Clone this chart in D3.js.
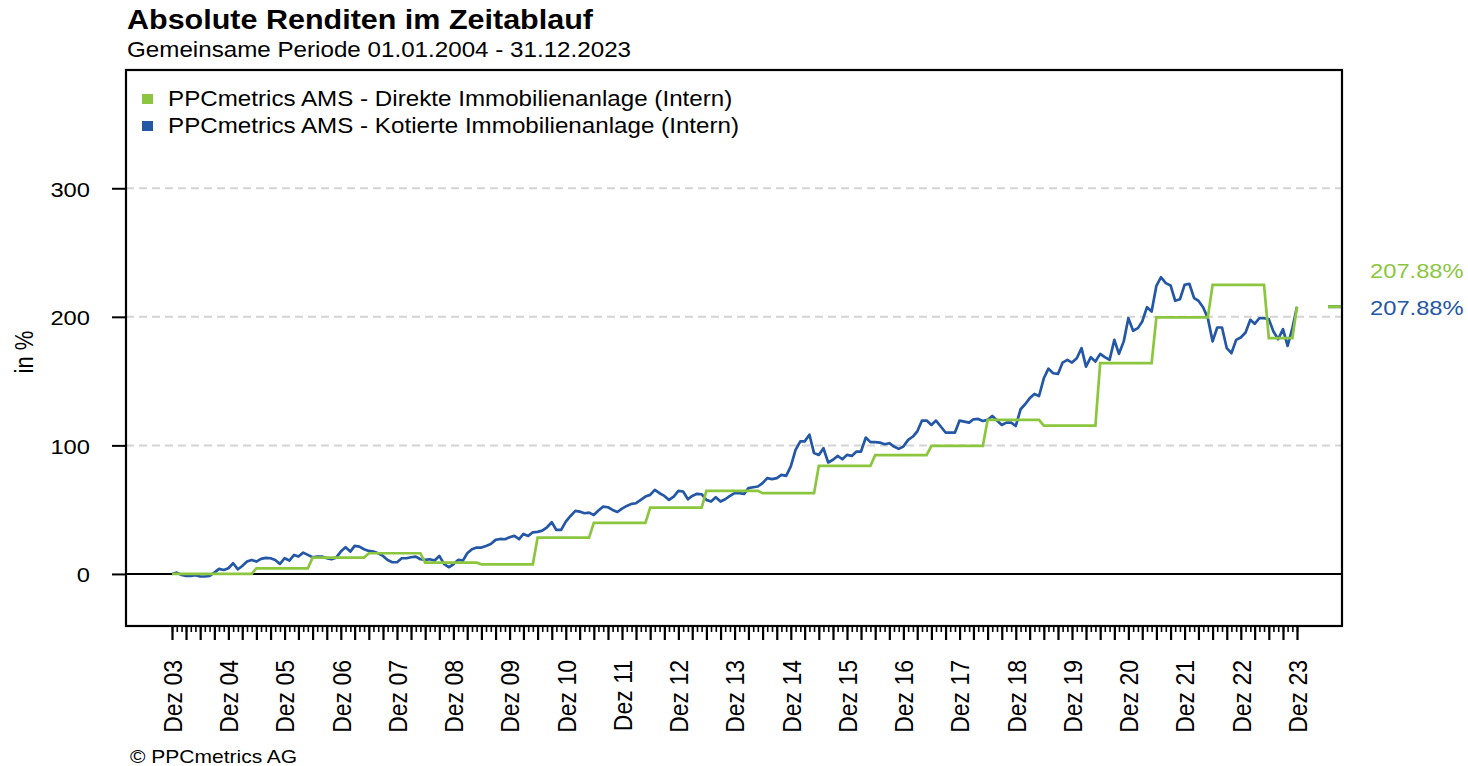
<!DOCTYPE html>
<html>
<head>
<meta charset="utf-8">
<script src="https://cdn.jsdelivr.net/npm/d3@7/dist/d3.min.js"></script>
<style>
  body { margin: 0; background: #fff; }
  svg { display: block; font-family: "Liberation Sans", Arial, sans-serif; }
</style>
</head>
<body>
<svg id="chart" width="1468" height="766"></svg>
<script>
// Chart texts
const title = 'Absolute Renditen im Zeitablauf';
const subtitle = 'Gemeinsame Periode 01.01.2004 - 31.12.2023';
const yLabel = 'in %';
const copyright = '\u00A9 PPCmetrics AG';
const seriesNames = [
  'PPCmetrics AMS - Direkte Immobilienanlage (Intern)',
  'PPCmetrics AMS - Kotierte Immobilienanlage (Intern)'
];
const seriesColors = ['#8cc63f', '#2457a5'];
const yTicks = [0, 100, 200, 300];

// Kotierte Immobilienanlage: monthly cumulative return in %, Dez 03 .. Dez 23
const blueStart = '2003-12';
const blueValues = [
  0, 1.0, -0.8, -1.5, -1.5, -1.0, -2.0, -2.0, -1.6, 1.0, 3.9, 3.1,
  4.4, 8.3, 3.6, 6.2, 9.6, 10.9, 9.6, 11.7, 12.5, 12.2, 10.9, 7.8,
  12.2, 10.4, 14.8, 13.5, 16.6, 14.8, 13.0, 13.5, 13.5, 12.2, 11.4, 12.7,
  17.4, 20.8, 17.4, 21.8, 21.3, 19.2, 17.9, 17.4, 16.1, 14.0, 10.9, 9.1,
  9.1, 12.2, 12.2, 13.0, 13.5, 11.4, 10.9, 11.4, 10.4, 14.0, 7.8, 5.2,
  7.5, 10.9, 10.4, 16.1, 19.2, 20.5, 20.5, 21.8, 23.3, 26.5, 27.2, 27.0,
  28.5, 29.6, 27.0, 31.1, 29.6, 32.4, 32.7, 33.7, 36.3, 40.2, 34.2, 34.2,
  40.7, 45.1, 49.0, 48.5, 47.2, 47.7, 45.9, 49.3, 52.4, 51.9, 49.8, 48.2,
  50.8, 52.9, 54.5, 55.0, 57.6, 60.2, 61.5, 65.4, 62.8, 60.7, 57.6, 60.2,
  64.6, 64.1, 58.1, 60.7, 62.3, 62.0, 57.6, 56.3, 59.7, 56.3, 58.1, 60.7,
  62.8, 62.8, 62.3, 66.7, 67.4, 68.0, 70.6, 74.5, 73.7, 74.5, 77.1, 76.3,
  83.6, 96.5, 103.1, 103.1, 108.3, 94.0, 92.6, 97.8, 86.7, 88.8, 91.8, 89.2,
  92.6, 91.8, 95.2, 95.2, 106.1, 102.5, 102.5, 102.2, 100.9, 101.7, 99.1, 97.3,
  99.1, 104.3, 106.9, 110.8, 119.3, 119.3, 115.9, 119.3, 114.7, 110.0, 110.0, 110.0,
  119.3, 118.5, 117.7, 120.3, 120.6, 119.0, 119.8, 122.9, 119.3, 115.9, 117.7, 117.7,
  115.1, 128.1, 132.2, 136.6, 140.0, 138.4, 152.2, 159.7, 156.1, 155.6, 164.4, 166.5,
  164.4, 167.8, 175.6, 161.3, 168.6, 165.2, 171.2, 168.6, 166.5, 182.1, 171.2, 180.9,
  198.9, 189.2, 191.2, 196.4, 207.5, 204.1, 224.1, 230.8, 226.2, 224.4, 212.5, 213.7,
  224.9, 225.7, 214.5, 212.5, 207.3, 199.0, 180.9, 191.7, 191.7, 175.6, 171.7, 182.1,
  183.9, 187.8, 197.7, 194.6, 198.9, 198.9, 198.2, 188.6, 182.6, 190.4, 177.4, 191.2,
  207.88
];

// Direkte Immobilienanlage: valuation changes once a year (corner points of the steps)
const greenDates = [
  '2003-12', '2005-05', '2005-06', '2006-05', '2006-06', '2007-05', '2007-06',
  '2008-05', '2008-06', '2009-05', '2009-06', '2010-05', '2010-06', '2011-05',
  '2011-06', '2012-05', '2012-06', '2013-05', '2013-06', '2014-05', '2014-06',
  '2015-05', '2015-06', '2016-05', '2016-06', '2017-05', '2017-06', '2018-05',
  '2018-06', '2019-05', '2019-06', '2020-05', '2020-06', '2021-05', '2021-06',
  '2022-05', '2022-06', '2023-05', '2023-06', '2023-11', '2023-12'
];
const greenValues = [
  0, 0, 4.4, 4.4, 12.7, 12.7, 16.1,
  16.1, 8.8, 8.8, 7.5, 7.5, 28.3, 28.3,
  39.7, 39.7, 51.6, 51.6, 64.6, 64.6, 62.8,
  62.8, 84.0, 84.0, 92.4, 92.4, 99.6, 99.6,
  119.8, 119.8, 115.4, 115.4, 164.0, 164.0, 199.5,
  199.5, 224.9, 224.9, 183.4, 183.4, 207.88
];

const STRETCH = 1.13; // the reference text is slightly wider than Arial
const parseMonth = d3.timeParse('%Y-%m');

const plot = { left: 126, right: 1342, top: 70, bottom: 626 };

const startDate = parseMonth(blueStart);
const blue = blueValues.map((v, i) => ({ date: d3.timeMonth.offset(startDate, i), value: v }));
const green = greenDates.map((d, i) => ({ date: parseMonth(d), value: greenValues[i] }));
const endDate = blue[blue.length - 1].date;

const svg = d3.select('#chart');

const x = d3.scaleTime()
  .domain([startDate, endDate])
  .range([172, 1297]);

const y = d3.scaleLinear()
  .domain([-40.5, 392])
  .range([plot.bottom, plot.top]);

// text helper with the horizontal stretch
const addText = (g, px, py, str, size, opts = {}) => g.append('text')
  .attr('transform', `translate(${px},${py}) scale(${STRETCH},1)${opts.rotate ? ' rotate(-90)' : ''}`)
  .attr('font-size', size)
  .attr('font-weight', opts.bold ? 'bold' : null)
  .attr('text-anchor', opts.anchor || 'start')
  .attr('fill', opts.color || '#000')
  .text(str);

// titles
addText(svg, 127, 29, title, 27, { bold: true });
addText(svg, 127, 57, subtitle, 21.4);

// gridlines
svg.append('g')
  .selectAll('line')
  .data(yTicks.filter(d => d !== 0))
  .join('line')
  .attr('x1', plot.left)
  .attr('x2', plot.right)
  .attr('y1', d => y(d))
  .attr('y2', d => y(d))
  .attr('stroke', '#d4d4d4')
  .attr('stroke-width', 2)
  .attr('stroke-dasharray', '8,5');

// zero line
svg.append('line')
  .attr('x1', plot.left)
  .attr('x2', plot.right)
  .attr('y1', y(0))
  .attr('y2', y(0))
  .attr('stroke', '#000')
  .attr('stroke-width', 2);

// series lines
const line = d3.line()
  .x(d => x(d.date))
  .y(d => y(d.value));

svg.append('path')
  .datum(blue)
  .attr('fill', 'none')
  .attr('stroke', seriesColors[1])
  .attr('stroke-width', 2.7)
  .attr('stroke-linejoin', 'round')
  .attr('d', line);

svg.append('path')
  .datum(green)
  .attr('fill', 'none')
  .attr('stroke', seriesColors[0])
  .attr('stroke-width', 2.7)
  .attr('d', line);

// last value markers at the right edge
const lastValues = [green[green.length - 1].value, blue[blue.length - 1].value];
[1, 0].forEach(i => {
  svg.append('line')
    .attr('x1', x(endDate) + 31)
    .attr('x2', plot.right)
    .attr('y1', y(lastValues[i]))
    .attr('y2', y(lastValues[i]))
    .attr('stroke', seriesColors[i])
    .attr('stroke-width', 3);
});

const fmtPct = v => d3.format('.2f')(v) + '%';
addText(svg, 1370, y(lastValues[0]) - 29, fmtPct(lastValues[0]), 21, { color: seriesColors[0] });
addText(svg, 1370, y(lastValues[1]) + 8, fmtPct(lastValues[1]), 21, { color: seriesColors[1] });

// frame
svg.append('rect')
  .attr('x', plot.left)
  .attr('y', plot.top)
  .attr('width', plot.right - plot.left)
  .attr('height', plot.bottom - plot.top)
  .attr('fill', 'none')
  .attr('stroke', '#000')
  .attr('stroke-width', 2.2);

// y axis
const yAxis = svg.append('g')
  .attr('transform', `translate(${plot.left},0)`)
  .call(d3.axisLeft(y).tickValues(yTicks).tickSize(14).tickPadding(22));
yAxis.select('.domain').remove();
yAxis.selectAll('.tick line').attr('stroke-width', 2);
yAxis.selectAll('.tick text')
  .attr('x', 0)
  .attr('dy', '0.38em')
  .attr('transform', `translate(-36,0) scale(${STRETCH},1)`)
  .attr('font-size', 21)
  .attr('font-family', null);

addText(svg, 33, 352, yLabel, 22, { rotate: true, anchor: 'middle' });

// x axis: monthly minor ticks, quarterly major ticks, December labels
const months = d3.timeMonth.range(startDate, d3.timeMonth.offset(endDate, 1));
const quarters = months.filter((d, i) => i % 3 === 0);
const decembers = months.filter(d => d.getMonth() === 11);

const minorAxis = svg.append('g')
  .attr('transform', `translate(0,${plot.bottom})`)
  .call(d3.axisBottom(x).tickValues(months).tickSize(6).tickFormat(''));
minorAxis.select('.domain').remove();
minorAxis.selectAll('.tick line').attr('stroke-width', 1.6);

const majorAxis = svg.append('g')
  .attr('transform', `translate(0,${plot.bottom})`)
  .call(d3.axisBottom(x).tickValues(quarters).tickSize(14).tickFormat(''));
majorAxis.select('.domain').remove();
majorAxis.selectAll('.tick line').attr('stroke-width', 2.2);

const fmtYear = d3.timeFormat('%y');
const labelAxis = svg.append('g')
  .attr('transform', `translate(0,${plot.bottom})`)
  .call(d3.axisBottom(x).tickValues(decembers).tickSize(0).tickFormat(d => 'Dez ' + fmtYear(d)));
labelAxis.select('.domain').remove();
labelAxis.selectAll('.tick text')
  .attr('x', 0)
  .attr('y', 0)
  .attr('dy', '0.36em')
  .attr('text-anchor', 'end')
  .attr('transform', `translate(0,34) scale(${STRETCH},1) rotate(-90)`)
  .attr('font-size', 23)
  .attr('font-family', null);

// legend
const legend = svg.append('g');
seriesNames.forEach((name, i) => {
  legend.append('rect')
    .attr('x', 142)
    .attr('y', 94 + i * 27)
    .attr('width', 11)
    .attr('height', 10)
    .attr('fill', seriesColors[i]);
  addText(legend, 168, 106 + i * 27, name, 21.4);
});

addText(svg, 130, 763, copyright, 18.6);
</script>
</body>
</html>
